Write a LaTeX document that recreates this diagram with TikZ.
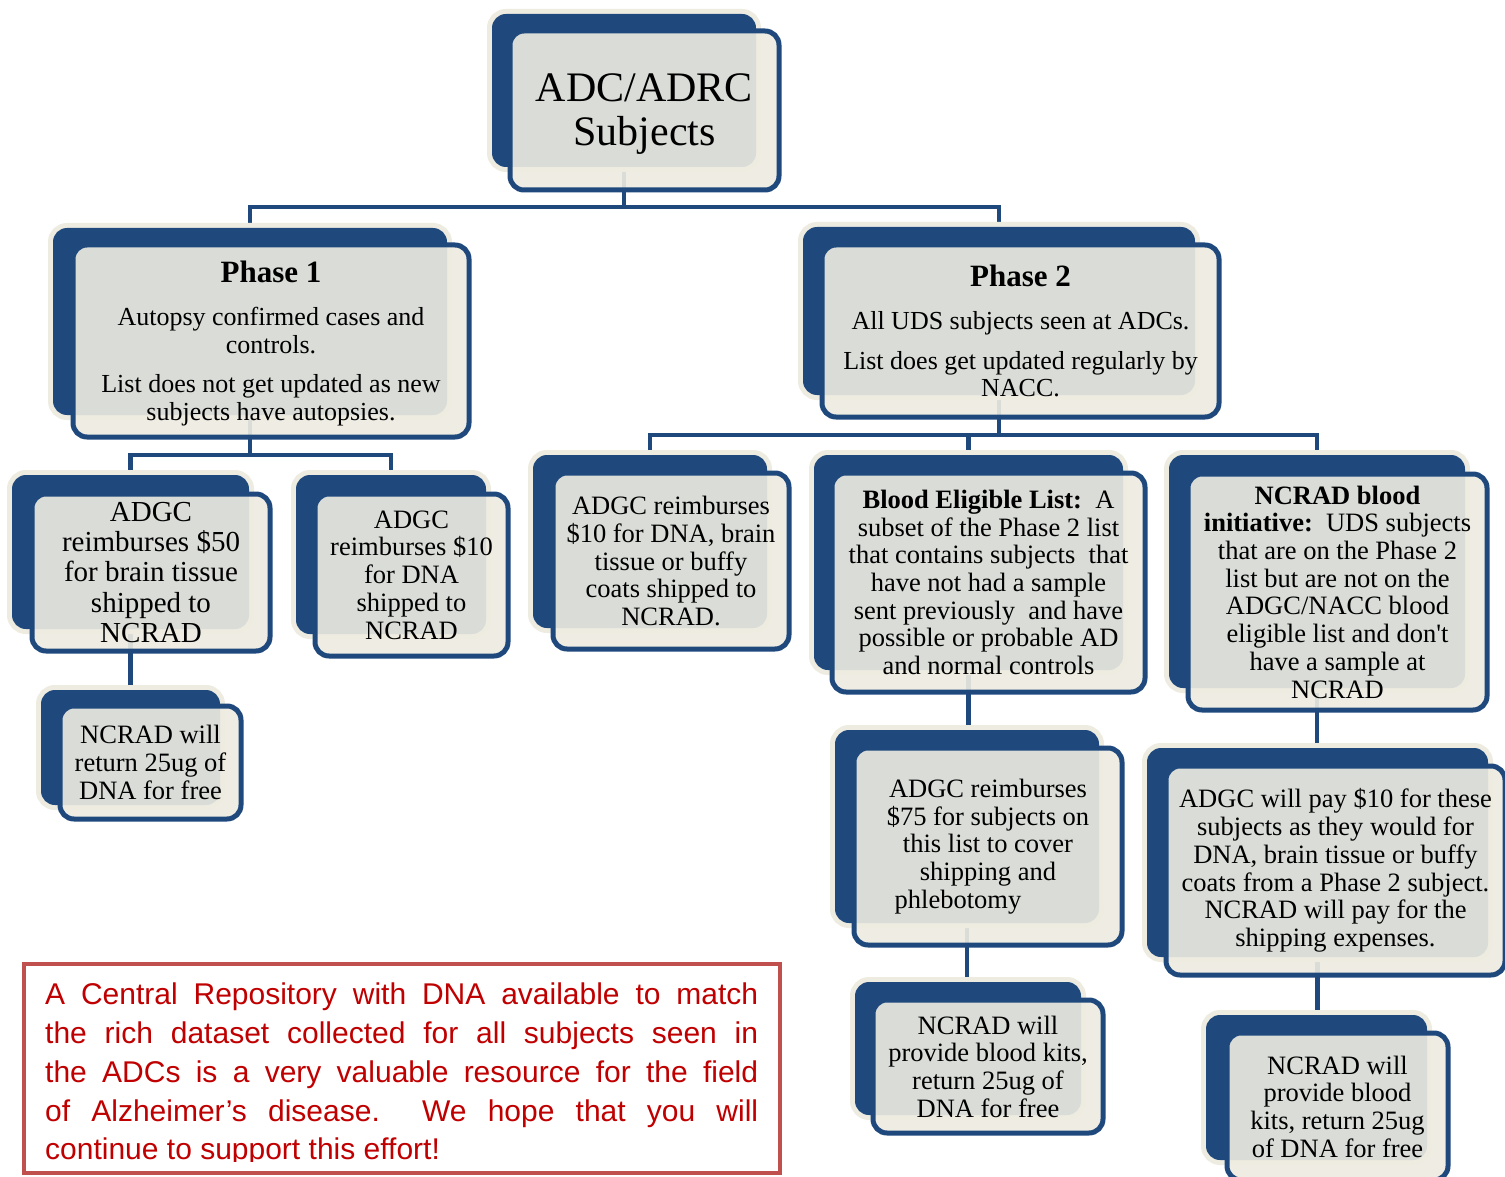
\documentclass[tikz,border=0pt]{standalone}
\usepackage{fontspec}
\setmainfont{Liberation Serif}
\newfontfamily\notefont{Liberation Sans}
\usetikzlibrary{fit}
\pgfdeclarelayer{bg}
\pgfsetlayers{bg,main}
\definecolor{navy}{RGB}{31,73,125}
\definecolor{cream}{RGB}{238,236,225}
\definecolor{noteborder}{RGB}{192,80,77}
\definecolor{notetext}{RGB}{192,0,0}
\newcommand{\fsz}[2]{\fontsize{#1}{#2}\selectfont}
\tikzset{
  backbox/.style={rectangle, rounded corners=14pt, fill=navy, inner sep=0pt, outer sep=0pt,
    preaction={draw=cream, line width=10pt}},
  frontbox/.style={rectangle, rounded corners=14pt, fill=cream, fill opacity=0.9, draw=navy,
    draw opacity=1, line width=5pt, inner sep=0pt, outer sep=0pt},
  conn/.style={draw=navy, line width=4.5pt},
  lbl/.style={align=center, text=black, inner sep=0pt, font=\fsz{26.5}{27.7}},
  notebox/.style={rectangle, draw=noteborder, line width=4pt, inner sep=0pt},
}
\newcommand{\twobox}[9]{%
  \node[backbox, fit={(#2,#3) (#4,#5)}] (#1) {};
  \node[frontbox, fit={(#6,#7) (#8,#9)}] (#1-f) {};
}
\begin{document}
\begin{tikzpicture}[x=1pt,y=-1pt]
\begin{pgfonlayer}{bg}
  \fill[white] (0,0) rectangle (1505,1177);
\end{pgfonlayer}
\useasboundingbox (0,0) rectangle (1505,1177);

% boxes
\twobox{adc}{492}{14}{756}{167}{510}{31}{779}{190}
\twobox{p1}{53}{228}{447}{415}{73}{245}{469}{437}
\twobox{p2}{803}{227}{1195}{395}{822}{245}{1219}{417}
\twobox{a50}{12}{475}{249}{629}{32}{494}{270}{651}
\twobox{a10}{296}{475}{486}{634}{315}{494}{508}{656}
\twobox{n1}{41}{690}{220}{805}{60}{706}{241}{819}
\twobox{b10}{533}{455}{767}{628}{553}{473}{789}{649}
\twobox{bel}{814}{455}{1123}{670}{832}{473}{1145}{692}
\twobox{nbi}{1169}{455}{1465}{688}{1188}{474}{1487}{710}
\twobox{a75}{835}{730}{1099}{923}{854}{748}{1122}{945}
\twobox{wp}{1147}{748}{1488}{957}{1166}{766}{1505}{975}
\twobox{n2}{855}{982}{1081}{1115}{873}{1000}{1103}{1133}
\twobox{n3}{1206}{1015}{1427}{1160}{1227}{1033}{1448}{1180}

% labels
\node[lbl, font=\fsz{42}{44}, yshift=-4pt] (adc-t) at (adc-f) {ADC/ADRC\\Subjects};
\node[lbl, font=\fsz{26}{28}, yshift=-3pt] (p1-t) at (p1-f) {{\fsz{31}{34}\bfseries Phase 1}\\[15pt]Autopsy confirmed cases and\\controls.\\[11pt]List does not get updated as new\\subjects have autopsies.};
\node[lbl, font=\fsz{26}{27}] (p2-t) at (p2-f) {{\fsz{31}{34}\bfseries Phase 2}\\[16pt]All UDS subjects seen at ADCs.\\[13pt]List does get updated regularly by\\NACC.};
\node[lbl, font=\fsz{29}{30.3}] (a50-t) at (a50-f) {ADGC\\reimburses \$50\\for brain tissue\\shipped to\\NCRAD};
\node[lbl] (a10-t) at (a10-f) {ADGC\\reimburses \$10\\for DNA\\shipped to\\NCRAD};
\node[lbl] (n1-t) at (n1-f) {NCRAD will\\return 25ug of\\DNA for free};
\node[lbl] (b10-t) at (b10-f) {ADGC reimburses\\\$10 for DNA, brain\\tissue or buffy\\coats shipped to\\NCRAD.};
\node[lbl] (bel-t) at (bel-f) {\textbf{Blood Eligible List:}\ \ A\\subset of the Phase 2 list\\that contains subjects\ \ that\\have not had a sample\\sent previously\ \ and have\\possible or probable AD\\and normal controls};
\node[lbl] (nbi-t) at (nbi-f) {\textbf{NCRAD blood}\\\textbf{initiative:}\ \ UDS subjects\\that are on the Phase 2\\list but are not on the\\ADGC/NACC blood\\eligible list and don\textquotesingle t\\have a sample at\\NCRAD};
\node[lbl] (a75-t) at (a75-f) {ADGC reimburses\\\$75 for subjects on\\this list to cover\\shipping and\\phlebotomy\hspace*{60pt}};
\node[lbl] (wp-t) at (wp-f) {ADGC will pay \$10 for these\\subjects as they would for\\DNA, brain tissue or buffy\\coats from a Phase 2 subject.\\NCRAD will pay for the\\shipping expenses.};
\node[lbl] (n2-t) at (n2-f) {NCRAD will\\provide blood kits,\\return 25ug of\\DNA for free};
\node[lbl] (n3-t) at (n3-f) {NCRAD will\\provide blood\\kits, return 25ug\\of DNA for free};

% connectors
\coordinate (busA) at (624,207);
\coordinate (busB) at (250,455);
\coordinate (busC) at (999,435);
\begin{pgfonlayer}{bg}
  \draw[conn] (adc.center) -- (adc.center |- busA) -| (p1.center);
  \draw[conn] (adc.center |- busA) -| (p2.center);
  \draw[conn] (p1.center) -- (p1.center |- busB) -| (a50.center);
  \draw[conn] (p1.center |- busB) -| (a10.center);
  \draw[conn] (a50.center) -- (a50.center |- n1.center);
  \draw[conn] (p2.center) -- (p2.center |- busC) -| (b10.center);
  \draw[conn] (p2.center |- busC) -| (nbi.center);
  \draw[conn] (bel.center |- busC) -- (bel.center);
  \draw[conn] (bel.center) -- (bel.center |- a75.center);
  \draw[conn] (a75.center) -- (a75.center |- n2.center);
  \draw[conn] (nbi.center) -- (nbi.center |- wp.center);
  \draw[conn] (wp.center) -- (wp.center |- n3.center);
\end{pgfonlayer}

% note
\node[notebox, fit={(24,964) (780,1173)}] (note) {};
\begin{scope}
  \clip (26,966) rectangle (778,1161);
  \node[anchor=north west, inner sep=0pt, align=left, text=notetext,
        font=\notefont\fsz{30}{38.7}] (note-t) at (45,983)
    {\makebox[713pt][s]{A Central Repository with DNA available to match}\\
     \makebox[713pt][s]{the rich dataset collected for all subjects seen in}\\
     \makebox[713pt][s]{the ADCs is a very valuable resource for the field}\\
     \makebox[713pt][s]{of Alzheimer’s disease.\ \ We hope that you will}\\
     continue to support this effort!};
\end{scope}
\end{tikzpicture}
\end{document}
